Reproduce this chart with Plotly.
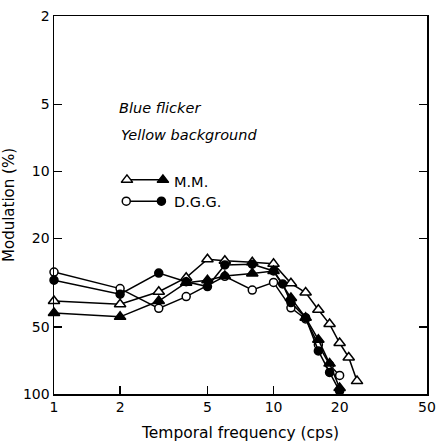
import plotly.graph_objects as go

# Data
mm_open_f = [1, 2, 3, 4, 5, 6, 8, 10, 12, 14, 16, 18, 20, 22, 24]
mm_open_v = [38.2, 39.5, 34.7, 30.0, 24.8, 25.2, 25.6, 26.0, 31.8, 35.0, 41.8, 48.5, 59.0, 68.5, 87.5]

mm_fill_f = [1, 2, 3, 4, 5, 6, 8, 10, 12, 14, 16, 18, 20]
mm_fill_v = [43.2, 45.0, 38.2, 31.6, 30.8, 29.5, 28.7, 28.0, 37.0, 45.4, 57.0, 73.0, 94.0]

dgg_open_f = [1, 2, 3, 4, 6, 8, 10, 12, 14, 16, 18, 20]
dgg_open_v = [28.3, 33.6, 41.2, 36.5, 29.6, 34.1, 31.5, 41.0, 46.0, 60.0, 74.0, 82.5]

dgg_fill_f = [1, 2, 3, 4, 5, 6, 8, 10, 11, 12, 14, 16, 18, 20]
dgg_fill_v = [30.8, 35.6, 28.6, 31.3, 32.9, 26.3, 26.1, 28.0, 32.0, 38.8, 45.4, 64.0, 80.0, 97.0]

x_ticks = [1, 2, 5, 10, 20, 50]
y_ticks = [2, 5, 10, 20, 50, 100]

FONT = "DejaVu Sans"
LW = 1.5

fig = go.Figure()

def add_series(f, v, symbol, filled, size):
    fig.add_trace(go.Scatter(
        x=f, y=v, mode="lines+markers", cliponaxis=False,
        line=dict(color="black", width=LW),
        marker=dict(symbol=symbol, size=size,
                    color="black" if filled else "white",
                    line=dict(color="black", width=LW)),
        showlegend=False))

add_series(dgg_open_f, dgg_open_v, "circle", False, 8)
add_series(mm_open_f, mm_open_v, "triangle-up", False, 10)
add_series(dgg_fill_f, dgg_fill_v, "circle", True, 8)
add_series(mm_fill_f, mm_fill_v, "triangle-up", True, 10)

# Legend keys drawn on an overlay paper-like axis
leg_rows = [
    ("triangle-up", 10, 0.5665, 0.1956, 0.292),
    ("circle", 8, 0.510, 0.1937, 0.288),
]
for sym, sz, yy, x0, x1 in leg_rows:
    fig.add_trace(go.Scatter(
        x=[x0, x1], y=[yy, yy], xaxis="x2", yaxis="y2", mode="lines+markers",
        line=dict(color="black", width=LW),
        marker=dict(symbol=sym, size=sz, color=["white", "black"],
                    line=dict(color="black", width=LW)),
        showlegend=False, cliponaxis=False))

ann_font = dict(family=FONT, size=14.5, color="black")
annotations = [
    dict(text="<i>Blue flicker</i>", x=0.170, y=0.757),
    dict(text="<i>Yellow background</i>", x=0.175, y=0.685),
    dict(text="M.M.", x=0.317, y=0.562),
    dict(text="D.G.G.", x=0.317, y=0.508),
]
fig.update_layout(annotations=[
    dict(a, xref="paper", yref="paper", xanchor="left", yanchor="middle",
         showarrow=False, font=ann_font) for a in annotations])

tick_font = dict(family=FONT, size=14, color="black")
fig.update_layout(
    width=438, height=445,
    margin=dict(l=54, r=11, t=16, b=51),
    paper_bgcolor="white", plot_bgcolor="white",
    hovermode=False,
    xaxis=dict(type="log", range=[0, 1.69897], tickvals=x_ticks,
               ticktext=[str(t) for t in x_ticks], automargin=False,
               ticklabeloverflow="allow",
               ticks="inside", ticklen=8, tickwidth=LW, tickcolor="black",
               showline=True, linecolor="black", linewidth=LW, mirror=True,
               showgrid=False, zeroline=False, tickfont=tick_font,
               title=dict(text="Temporal frequency (cps)", standoff=13,
                          font=dict(family=FONT, size=15.5, color="black"))),
    yaxis=dict(type="log", range=[2, 0.30103], tickvals=y_ticks,
               ticktext=[str(t) for t in y_ticks], automargin=False,
               ticklabeloverflow="allow",
               ticks="inside", ticklen=8, tickwidth=LW, tickcolor="black",
               showline=True, linecolor="black", linewidth=LW, mirror="ticks",
               showgrid=False, zeroline=False, tickfont=tick_font,
               title=dict(text="Modulation (%)", standoff=4,
                          font=dict(family=FONT, size=15, color="black"))),
    xaxis2=dict(overlaying="x", range=[0, 1], visible=False, anchor="y2"),
    yaxis2=dict(overlaying="y", range=[0, 1], visible=False, anchor="x2"),
)

fig.write_html(
    "out.html",
    config={"displayModeBar": False, "staticPlot": True},
    post_script="document.body.style.margin='0px';document.body.style.overflow='hidden';",
)
